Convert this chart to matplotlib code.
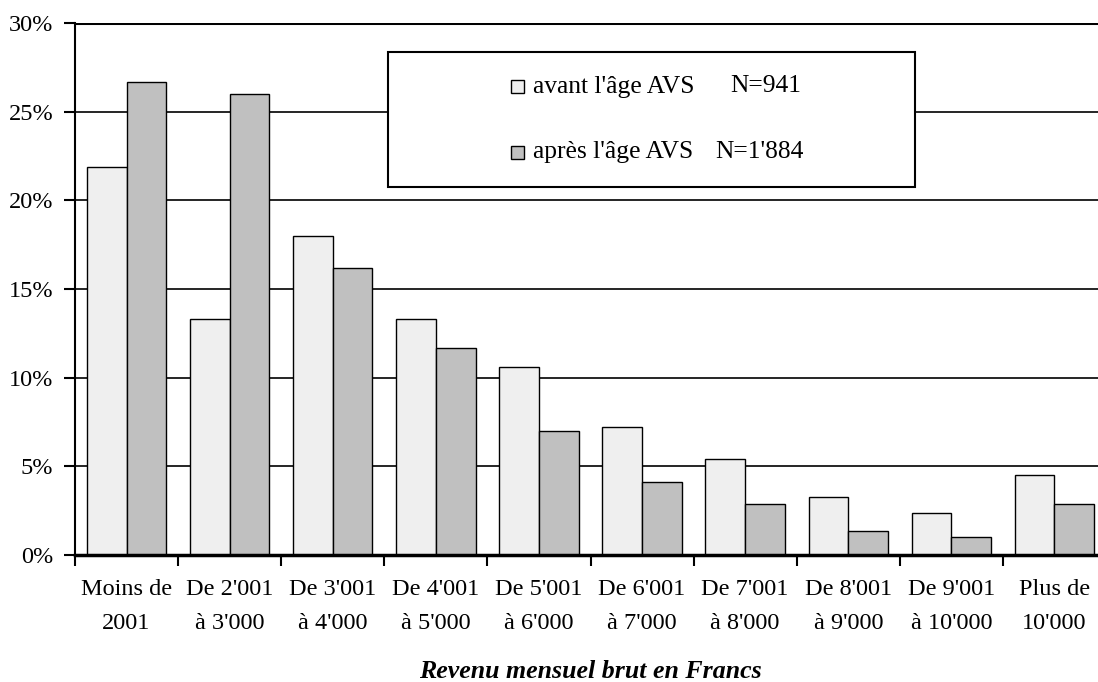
import matplotlib
matplotlib.use("Agg")
import matplotlib.pyplot as plt
from matplotlib.patches import Rectangle
import numpy as np

categories = ["Moins de\n2001", "De 2'001\nà 3'000", "De 3'001\nà 4'000", "De 4'001\nà 5'000",
              "De 5'001\nà 6'000", "De 6'001\nà 7'000", "De 7'001\nà 8'000", "De 8'001\nà 9'000",
              "De 9'001\nà 10'000", "Plus de\n10'000"]
avant = [21.9, 13.3, 18.0, 13.3, 10.6, 7.2, 5.4, 3.25, 2.35, 4.5]
apres = [26.7, 26.0, 16.2, 11.7, 7.0, 4.1, 2.9, 1.33, 1.0, 2.9]
series_labels = ["avant l'âge AVS", "après l'âge AVS"]
series_n = ["N=941", "N=1'884"]
yticks = [0, 5, 10, 15, 20, 25, 30]
xlabel = "Revenu mensuel brut en Francs"

plt.rcParams['font.family'] = ['Liberation Serif', 'DejaVu Serif']
FS = 17.5
FS_LEG = 18.4
FS_TITLE = 18.6

W, H = 1098, 682
fig = plt.figure(figsize=(W / 100, H / 100), dpi=100)

def fx(px):
    return px / W

def fy(py):
    return 1 - py / H

left, right, top, bottom = 75, 1106, 23, 555
ax = fig.add_axes([fx(left), fy(bottom), fx(right - left), (bottom - top) / H])

x = np.arange(len(categories))
bw = 0.385
c_light = "#EFEFEF"
c_dark = "#C0C0C0"
ax.bar(x - bw / 2, avant, width=bw, color=c_light, edgecolor="black", linewidth=1.0, zorder=3)
ax.bar(x + bw / 2, apres, width=bw, color=c_dark, edgecolor="black", linewidth=1.0, zorder=3)

ax.set_xlim(-0.5, len(categories) - 0.5)
ax.set_ylim(0, 30)
ax.set_yticks(yticks)
ax.set_yticklabels([f"{v}%" for v in yticks], fontsize=FS)
ax.yaxis.grid(True, color="black", linewidth=1.2, zorder=0)
ax.set_axisbelow(True)

ax.set_xticks(x)
ax.set_xticklabels(categories, fontsize=FS)
for t in ax.get_xticklabels():
    t.set_linespacing(1.85)
ax.tick_params(axis="x", which="major", length=0, pad=17)
ax.set_xticks(np.arange(-0.5, len(categories)), minor=True)
ax.tick_params(axis="x", which="minor", length=8, width=1.5, direction="out")
ax.tick_params(axis="y", which="major", length=8, width=1.5, direction="out", pad=7.5)

for s in ["top", "right"]:
    ax.spines[s].set_visible(False)
ax.spines["left"].set_linewidth(1.5)
ax.spines["bottom"].set_linewidth(2.5)
ax.spines["bottom"].set_zorder(4)
ax.axhline(30, color="black", linewidth=2.2, zorder=1)

# legend box
lx0, lx1, ly0, ly1 = 388, 915, 52, 187
box = Rectangle((fx(lx0), fy(ly1)), fx(lx1 - lx0), (ly1 - ly0) / H, transform=fig.transFigure,
                facecolor="white", edgecolor="black", linewidth=1.5, zorder=10)
box.set_clip_on(False)
ax.add_patch(box)
rows_y = [86.5, 152]
colors = [c_light, c_dark]
n_x = [730, 715]
for yy, c, lab, n, nx in zip(rows_y, colors, series_labels, series_n, n_x):
    sq = Rectangle((fx(511), fy(yy + 6.5)), fx(13), 13 / H, transform=fig.transFigure,
                   facecolor=c, edgecolor="black", linewidth=1.0, zorder=11)
    sq.set_clip_on(False)
    ax.add_patch(sq)
    fig.text(fx(533), fy(yy), lab, fontsize=FS_LEG, va="center", ha="left", zorder=12)
    fig.text(fx(nx), fy(yy), n, fontsize=FS_LEG, va="center", ha="left", zorder=12)

fig.text(fx((left + right) / 2), fy(671), xlabel, fontsize=FS_TITLE, fontweight="bold",
         fontstyle="italic", ha="center", va="center")

fig.savefig("out.png", dpi=100, facecolor="white")
